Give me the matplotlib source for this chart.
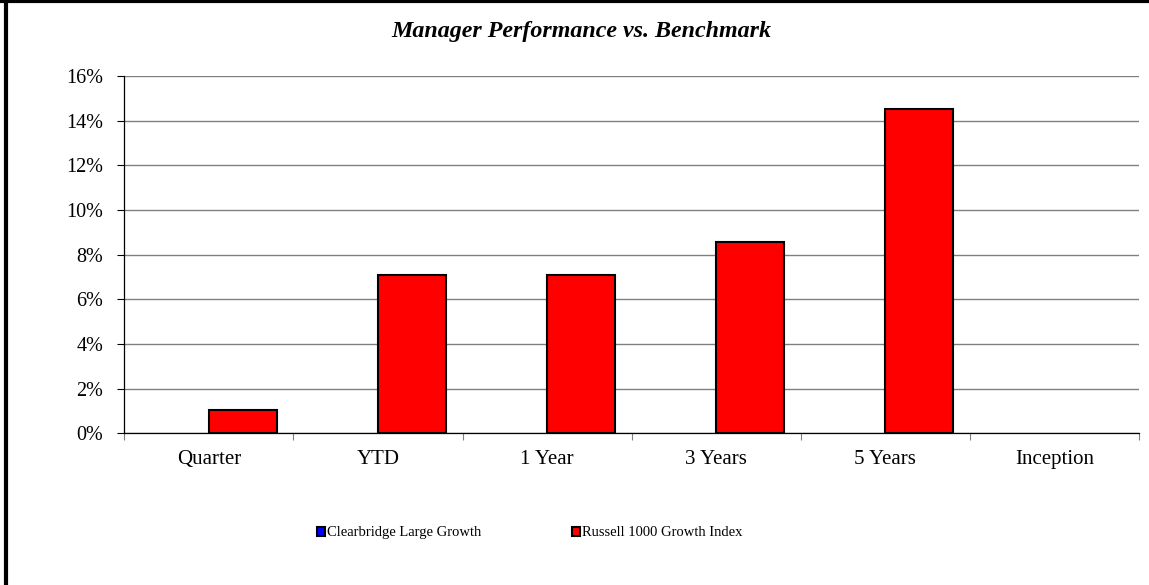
import numpy as np
import matplotlib
matplotlib.use("Agg")
import matplotlib.pyplot as plt
from matplotlib.ticker import FixedLocator, PercentFormatter
from matplotlib.lines import Line2D

# Data
periods = ["Quarter", "YTD", "1 Year", "3 Years", "5 Years", "Inception"]
clearbridge = [np.nan, np.nan, np.nan, np.nan, np.nan, np.nan]   # no values shown
russell = [1.03, 7.09, 7.09, 8.55, 14.51, np.nan]
y_ticks = [0, 2, 4, 6, 8, 10, 12, 14, 16]

plt.rcParams["font.family"] = ["Liberation Serif", "DejaVu Serif"]

fig = plt.figure(figsize=(11.49, 5.85), dpi=100)
ax = fig.add_axes([0.1082, 0.2593, 0.8831, 0.6108])

x = np.arange(len(periods))
w = 0.4
ax.bar(x - w / 2, clearbridge, w, color="#0000ff", edgecolor="black", linewidth=1.5,
       label="Clearbridge Large Growth", zorder=3)
ax.bar(x + w / 2, russell, w, color="#ff0000", edgecolor="black", linewidth=1.5,
       label="Russell 1000 Growth Index", zorder=3)

ax.set_xlim(-0.5, len(periods) - 0.5)
ax.set_ylim(0, 16)
ax.set_yticks(y_ticks)
ax.yaxis.set_major_formatter(PercentFormatter(decimals=0))
ax.grid(axis="y", color="#808080", linewidth=1.0, zorder=0)

ax.set_xticks(x)
ax.set_xticklabels(periods)
ax.xaxis.set_minor_locator(FixedLocator(np.arange(-0.5, len(periods), 1.0)))
ax.tick_params(axis="x", which="major", length=0, pad=12, labelsize=15)
ax.tick_params(axis="x", which="minor", length=5, width=0.8, color="#808080", direction="out")
ax.tick_params(axis="y", length=5, width=0.8, direction="out", pad=10, labelsize=14.5)

for s in ["top", "right"]:
    ax.spines[s].set_visible(False)
ax.spines["left"].set_linewidth(0.9)
ax.spines["bottom"].set_linewidth(0.9)

fig.text(0.5055, 0.947, "Manager Performance vs. Benchmark", ha="center", va="center",
         fontsize=17.3, fontweight="bold", fontstyle="italic")

fig.legend(loc="center", bbox_to_anchor=(0.461, 0.089), ncol=2, frameon=False,
           fontsize=10.5, handlelength=0.55, handleheight=0.55, handletextpad=0.15,
           columnspacing=6.2)

# chart border (only top and left visible in the reference)
fig.add_artist(Line2D([0.0, 1.0], [0.9975, 0.9975], transform=fig.transFigure,
                      color="black", linewidth=3))
fig.add_artist(Line2D([0.0048, 0.0048], [0.0, 1.0], transform=fig.transFigure,
                      color="black", linewidth=3))

fig.savefig("out.png", dpi=100)
